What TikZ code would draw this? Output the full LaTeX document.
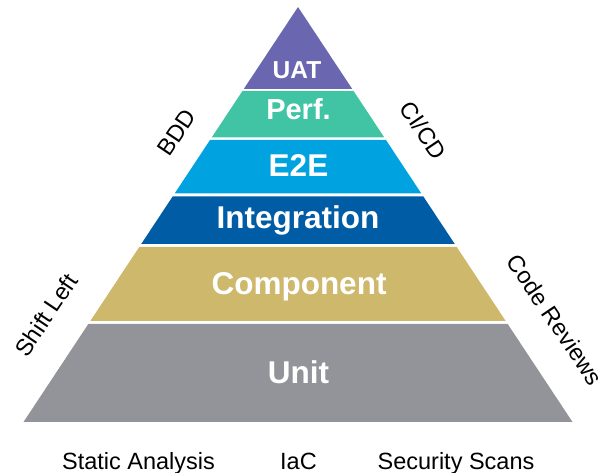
\documentclass[tikz,border=0pt]{standalone}
\usepackage{fontspec}
\setmainfont{Liberation Sans}
\usetikzlibrary{calc}
\definecolor{uatcol}{RGB}{106,103,176}
\definecolor{perfcol}{RGB}{64,196,164}
\definecolor{etecol}{RGB}{0,163,224}
\definecolor{integcol}{RGB}{0,92,165}
\definecolor{compcol}{RGB}{206,184,108}
\definecolor{unitcol}{RGB}{147,148,153}
\tikzstyle{layertext} = [text=white, anchor=base, font=\bfseries\fontsize{31.5}{36}\selectfont]
\tikzstyle{sidetext} = [anchor=center, font=\fontsize{23.5}{28}\selectfont]
\tikzstyle{foottext} = [anchor=base, font=\fontsize{23.5}{28}\selectfont]
% one slice of the pyramid, between two heights (px from top)
\newcommand\layer[3]{%
  \fill[#3] ($(apex)!{(#1-7)/415}!(bl)$) -- ($(apex)!{(#1-7)/415}!(br)$)
    -- ($(apex)!{(#2-7)/415}!(br)$) -- ($(apex)!{(#2-7)/415}!(bl)$) -- cycle;}

\begin{document}
\begin{tikzpicture}[x=1pt, y=-1pt]
\useasboundingbox (0,0) rectangle (606,473);
\coordinate (apex) at (298,7);
\coordinate (bl) at (23.5,422);
\coordinate (br) at (572.5,422);

\layer{7}{89}{uatcol}
\layer{91}{137.5}{perfcol}
\layer{140}{193.5}{etecol}
\layer{196.5}{244}{integcol}
\layer{247}{321}{compcol}
\layer{324}{422}{unitcol}

\node[layertext, font=\bfseries\fontsize{24.5}{30}\selectfont] (uat) at (297,79) {UAT};
\node[layertext, font=\bfseries\fontsize{29}{34}\selectfont] (perf) at (298.5,120) {Perf.};
\node[layertext] (e2e) at (298.5,176.7) {E2E};
\node[layertext] (integ) at (298,228.3) {Integration};
\node[layertext] (comp) at (299,294.3) {Component};
\node[layertext] (unit) at (298.5,383.3) {Unit};

\node[sidetext, rotate=56] (bdd) at (176.5,132.5) {BDD};
\node[sidetext, rotate=56] (shift) at (46,315) {Shift Left};
\node[sidetext, rotate=-56] (cicd) at (423.5,130) {CI/CD};
\node[sidetext, rotate=-56] (review) at (555,320) {Code Reviews};

\node[foottext] (static) at (138.5,469) {Static Analysis};
\node[foottext] (iac) at (298.5,469) {IaC};
\node[foottext] (scans) at (456,469) {Security Scans};
\end{tikzpicture}
\end{document}
